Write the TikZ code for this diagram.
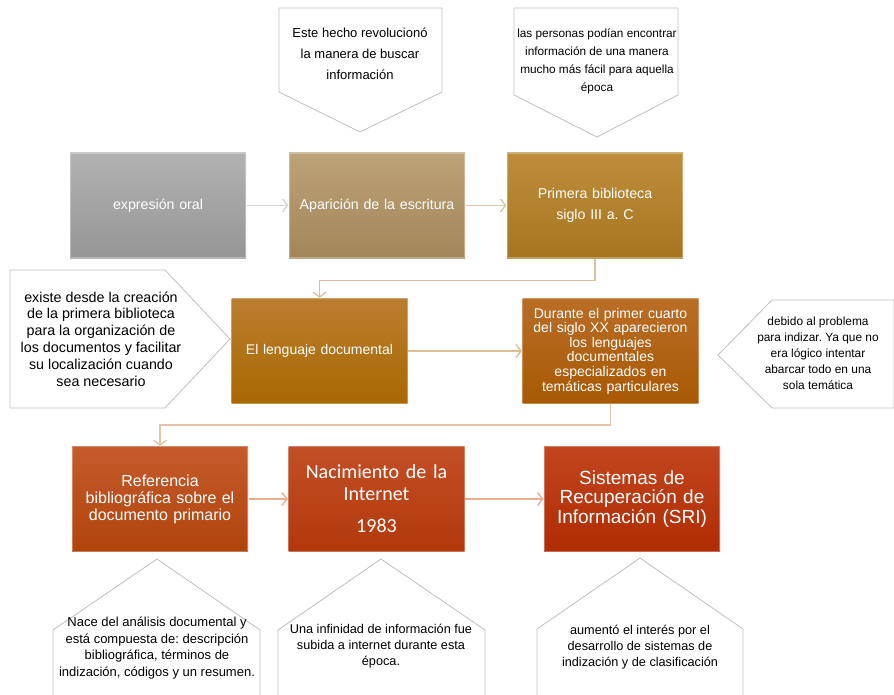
\documentclass[tikz,border=0pt]{standalone}
\usepackage{fontspec}
\setmainfont{Liberation Sans}
\newfontfamily\calibri{Carlito}
\frenchspacing
\usetikzlibrary{arrows.meta,positioning}
\definecolor{grisA}{HTML}{B2B2B2}
\definecolor{grisB}{HTML}{969696}
\definecolor{arenaA}{HTML}{BDA378}
\definecolor{arenaB}{HTML}{A2865A}
\definecolor{oroA}{HTML}{BD8D3B}
\definecolor{oroB}{HTML}{A6761F}
\definecolor{ocreA}{HTML}{BA7E30}
\definecolor{ocreB}{HTML}{A96800}
\definecolor{cobreA}{HTML}{B96D26}
\definecolor{cobreB}{HTML}{A95904}
\definecolor{tejaA}{HTML}{C55B2D}
\definecolor{tejaB}{HTML}{B0440B}
\definecolor{rojoA}{HTML}{C34F27}
\definecolor{rojoB}{HTML}{B2380A}
\definecolor{sangreA}{HTML}{C2451F}
\definecolor{sangreB}{HTML}{B02C02}
\tikzset{
	caja/.style={rectangle,align=center,text=white,minimum width=176pt,minimum height=105pt,text width=168pt,inner sep=0pt,draw=white,draw opacity=0.3,line width=1.2pt,font=\fontsize{14.2}{21}\selectfont},
	nota/.style={draw=black!25,fill=white,line width=0.8pt,line join=miter},
	texto/.style={align=center,inner sep=0pt,font=\fontsize{12}{16}\selectfont},
	flecha/.style={-{Straight Barb[length=5pt,width=13pt]},line width=1.4pt},
}

\begin{document}
\begin{tikzpicture}[x=1pt,y=-1pt]
	\useasboundingbox (0,0) rectangle (894,695);
	\clip (0,0) rectangle (894,695);
	% notas de arriba
	\draw[nota] (279,8) -- (442,8) -- (442,92) -- (360,132) -- (279,92) -- cycle;
	\node[texto,font=\fontsize{13}{21}\selectfont] (hecho) at (360,54) {Este hecho revolucionó\\la manera de buscar\\información};
	\draw[nota] (514,8) -- (678,8) -- (678,95) -- (597,137) -- (514,95) -- cycle;
	\node[texto,font=\fontsize{11.8}{18}\selectfont] (personas) at (597,61) {las personas podían encontrar\\información de una manera\\mucho más fácil para aquella\\época};
	% notas laterales
	\draw[nota] (10,270) -- (165,270) -- (230,339) -- (165,408) -- (10,408) -- cycle;
	\node[texto,font=\fontsize{14.3}{16.8}\selectfont] (existe) at (101,339) {existe desde la creación\\de la primera biblioteca\\para la organización de\\los documentos y facilitar\\su localización cuando\\sea necesario};
	\draw[nota] (718,355) -- (772,300) -- (894,300) -- (894,408) -- (772,408) -- cycle;
	\node[texto,font=\fontsize{11.9}{16}\selectfont] (debido) at (818,353) {debido al problema\\para indizar. Ya que no\\era lógico intentar\\abarcar todo en una\\sola temática};
	% notas de abajo
	\draw[nota] (157,559) -- (260,630) -- (260,700) -- (53,700) -- (53,630) -- cycle;
	\node[texto,font=\fontsize{13}{16.5}\selectfont] (nace) at (157,648) {Nace del análisis documental y\\está compuesta de: descripción\\bibliográfica, términos de\\indización, códigos y un resumen.};
	\draw[nota] (381,559) -- (485,630) -- (485,700) -- (278,700) -- (278,630) -- cycle;
	\node[texto,font=\fontsize{12.7}{16}\selectfont] (infinidad) at (381,646) {Una infinidad de información fue\\subida a internet durante esta\\época.};
	\draw[nota] (640,558) -- (743,629) -- (743,700) -- (537,700) -- (537,629) -- cycle;
	\node[texto,font=\fontsize{12.7}{16}\selectfont] (aumento) at (640,647) {aumentó el interés por el\\desarrollo de sistemas de\\indización y de clasificación};
	% cajas
	\node[caja,top color=grisA,bottom color=grisB] (expr) at (158,205.5) {expresión oral};
	\node[caja,top color=arenaA,bottom color=arenaB] (apar) at (377,205.5) {Aparición de la escritura};
	\node[caja,top color=oroA,bottom color=oroB] (bib) at (595,205.5) {Primera biblioteca\\siglo III a. C};
	\node[caja,top color=ocreA,bottom color=ocreB,font=\fontsize{14}{17}\selectfont] (len) at (319.5,351) {El lenguaje documental};
	\node[caja,top color=cobreA,bottom color=cobreB,font=\fontsize{14}{14.6}\selectfont] (dur) at (610.5,351) {Durante el primer cuarto\\del siglo XX aparecieron\\los lenguajes\\documentales\\especializados en\\temáticas particulares};
	\node[caja,top color=tejaA,bottom color=tejaB,font=\fontsize{16}{17}\selectfont] (ref) at (160,499) {Referencia\\bibliográfica sobre el\\documento primario};
	\node[caja,top color=rojoA,bottom color=rojoB,font=\calibri\fontsize{20}{22}\selectfont] (nac) at (376.5,499) {Nacimiento de la\\Internet\\[10pt]1983};
	\node[caja,top color=sangreA,bottom color=sangreB,font=\fontsize{19}{19.5}\selectfont] (sis) at (632,499) {Sistemas de\\Recuperación de\\Información (SRI)};
	% flechas
	\draw[flecha,draw={rgb,255:red,212;green,212;blue,212}] (expr) -- (apar);
	\draw[flecha,draw={rgb,255:red,216;green,199;blue,168}] (apar) -- (bib);
	\draw[flecha,draw={rgb,255:red,217;green,194;blue,154}] (bib.south) -- ++(0,22) -| (len.north);
	\draw[flecha,draw={rgb,255:red,221;green,190;blue,146}] (len) -- (dur);
	\draw[flecha,draw={rgb,255:red,228;green,196;blue,166}] (dur.south) -- ++(0,21) -| (ref.north);
	\draw[flecha,draw={rgb,255:red,232;green,174;blue,144}] (ref) -- (nac);
	\draw[flecha,draw={rgb,255:red,232;green,174;blue,144}] (nac) -- (sis);
\end{tikzpicture}
\end{document}
